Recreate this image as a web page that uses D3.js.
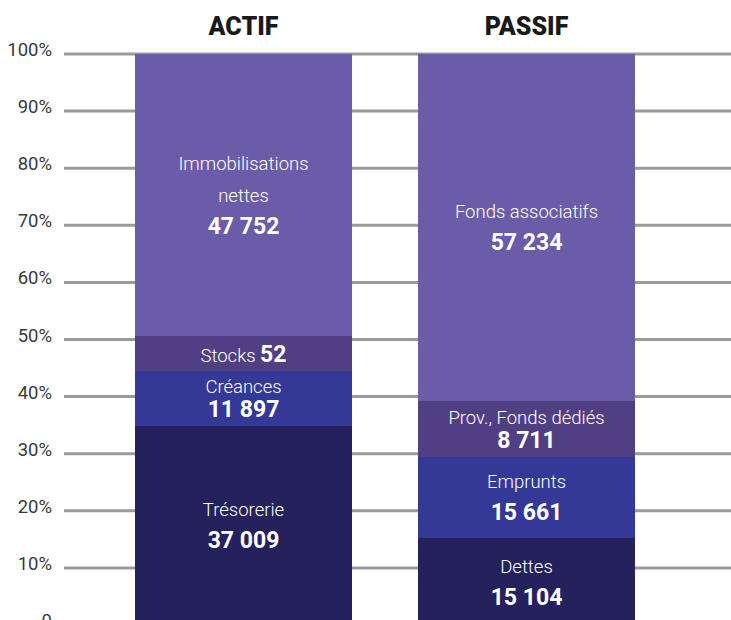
<!DOCTYPE html>
<html>
<head>
<meta charset="utf-8">
<script src="https://cdn.jsdelivr.net/npm/d3@7"></script>
<style>
  body { margin: 0; background: #fff; }
  svg { display: block; font-family: Roboto, "Noto Sans", sans-serif; }
</style>
</head>
<body>
<div id="chart"></div>
<script>
// columns of the balance sheet
const columns = ["ACTIF", "PASSIF"];

// segments, bottom to top
const actifNames = [["Trésorerie"], ["Créances"], ["Stocks"], ["Immobilisations", "nettes"]];
const actifValues = [37009, 11897, 52, 47752];
const actifShares = [34.9, 9.6, 6.1, 49.4]; // height in % as drawn

const passifNames = [["Dettes"], ["Emprunts"], ["Prov., Fonds dédiés"], ["Fonds associatifs"]];
const passifValues = [15104, 15661, 8711, 57234];
const passifShares = [15.2, 14.3, 9.8, 60.7];

const segColors = ["#25215c", "#343897", "#513f84", "#6a5ca8"];
const yTicks = [0, 10, 20, 30, 40, 50, 60, 70, 80, 90, 100];

const width = 731, height = 620;
const fr = d3.formatLocale({ decimal: ",", thousands: " ", grouping: [3], currency: ["", " €"] });
const fmt = fr.format(",d");

const svg = d3.select("#chart").append("svg")
  .attr("width", width)
  .attr("height", height);

const x = d3.scaleBand().domain(columns).range([134, 636]).paddingInner(0.232).paddingOuter(0).round(true);
const y = d3.scaleLinear().domain([0, 100]).range([625, 54]);

// grid
svg.append("g").selectAll("line")
  .data(yTicks)
  .join("line")
  .attr("x1", 64).attr("x2", width)
  .attr("y1", d => y(d)).attr("y2", d => y(d))
  .attr("stroke", "#9a9a9a")
  .attr("stroke-width", 3);

svg.append("g").selectAll("text")
  .data(yTicks)
  .join("text")
  .attr("x", 52)
  .attr("y", d => y(d) + 2)
  .attr("text-anchor", "end")
  .attr("fill", "#3a3a3a")
  .style("font-size", "18.5px")
  .style("font-weight", 400)
  .text(d => d === 0 ? "0" : d + "%");

// build segments
const series = [
  { col: "ACTIF", names: actifNames, values: actifValues, shares: actifShares },
  { col: "PASSIF", names: passifNames, values: passifValues, shares: passifShares }
];

series.forEach(s => {
  const tops = d3.cumsum(s.shares);
  const segs = s.shares.map((sh, i) => ({
    y0: tops[i] - sh,
    y1: i === s.shares.length - 1 ? 100 : tops[i],
    names: s.names[i],
    value: s.values[i],
    color: segColors[i]
  }));

  const g = svg.append("g");
  g.selectAll("rect")
    .data(segs)
    .join("rect")
    .attr("x", x(s.col))
    .attr("width", x.bandwidth())
    .attr("y", d => Math.round(y(d.y1)))
    .attr("height", d => Math.round(y(d.y0)) - Math.round(y(d.y1)))
    .attr("fill", d => d.color)
    .attr("shape-rendering", "crispEdges");

  const cx = x(s.col) + x.bandwidth() / 2;

  segs.forEach(d => {
    const mid = (y(d.y0) + y(d.y1)) / 2 + 7;
    const h = y(d.y0) - y(d.y1);
    const t = g.append("text")
      .attr("x", cx)
      .attr("text-anchor", "middle")
      .attr("fill", "#fff");

    if (d.names[0] === "Stocks") {
      t.attr("y", mid + 2);
      t.append("tspan").style("font-size", "18.5px").style("font-weight", 300).text(d.names[0] + " ");
      t.append("tspan").style("font-size", "23px").style("font-weight", 700).text(fmt(d.value));
      return;
    }

    const lines = d.names.length + 1;
    const gap = h < 70 ? 24 : 32;
    const first = mid - (lines - 1) * gap / 2;
    d.names.forEach((nm, k) => {
      t.append("tspan")
        .attr("x", cx)
        .attr("y", first + k * gap)
        .style("font-size", "18.5px")
        .style("font-weight", 300)
        .text(nm);
    });
    t.append("tspan")
      .attr("x", cx)
      .attr("y", first + (lines - 1) * gap)
      .style("font-size", "23px")
      .style("font-weight", 700)
      .text(fmt(d.value));
  });
});

// column titles
svg.append("g").selectAll("text")
  .data(columns)
  .join("text")
  .attr("x", d => x(d) + x.bandwidth() / 2)
  .attr("y", 35)
  .attr("text-anchor", "middle")
  .attr("fill", "#1a1a1a")
  .style("font-size", "25px")
  .style("font-weight", 900)
  .text(d => d);
</script>
</body>
</html>
